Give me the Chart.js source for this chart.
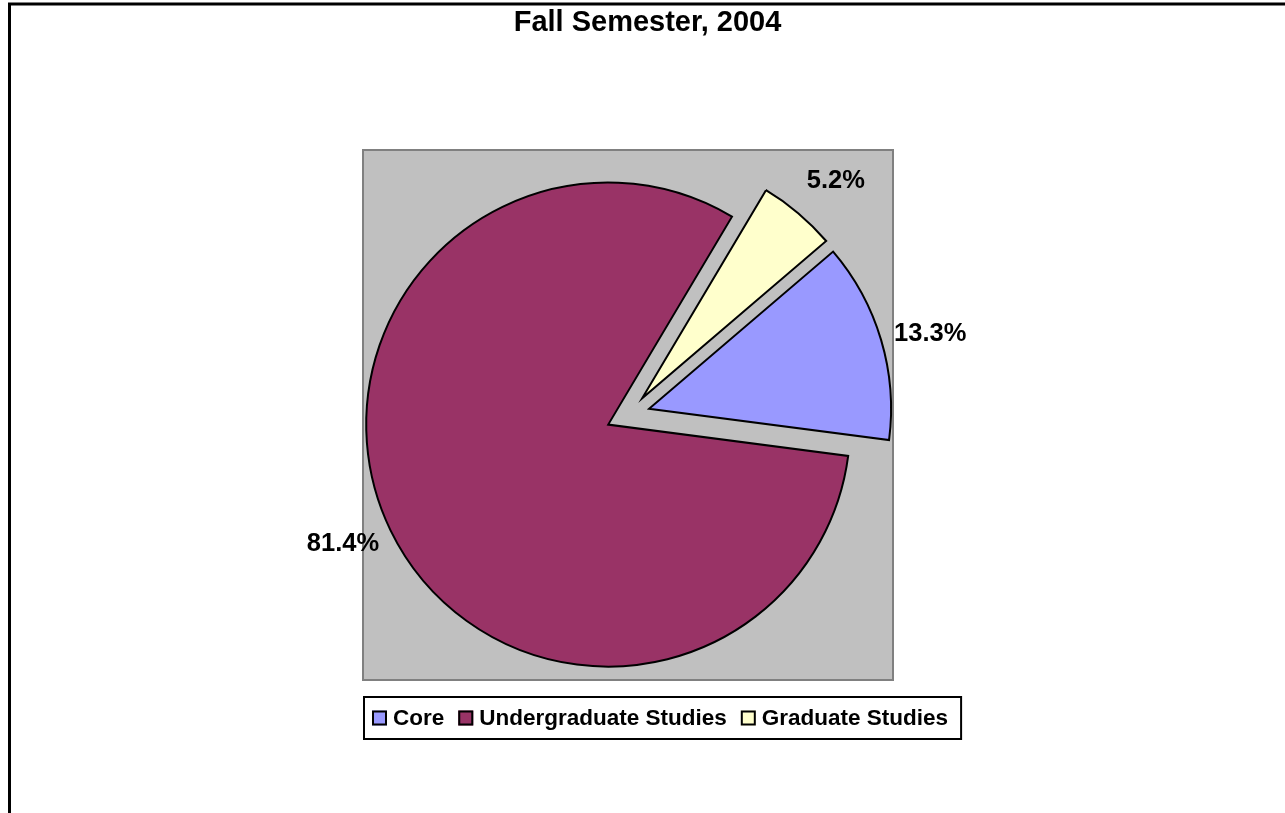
<!DOCTYPE html>
<html>
<head>
<meta charset="utf-8">
<script src="https://cdn.jsdelivr.net/npm/chart.js@4.4.1/dist/chart.umd.min.js"></script>
<style>
  html, body { margin: 0; padding: 0; background: #ffffff; }
  #wrap { width: 1285px; height: 813px; }
</style>
</head>
<body>
<div id="wrap"><canvas id="c" width="1285" height="813"></canvas></div>
<script>
const chartTitle = 'Fall Semester, 2004';
const categories = ['Core', 'Undergraduate Studies', 'Graduate Studies'];
const shares = [13.3, 81.4, 5.2];

const FONT = '"Liberation Sans", Arial, Helvetica, sans-serif';
const EXPLODE = 22;
const LABEL_GAP = 49;
const LABEL_TURN = 1.6 * Math.PI / 180;

const framePlugin = {
  id: 'frame',
  beforeDraw(chart) {
    const ctx = chart.ctx, a = chart.chartArea;
    ctx.save();
    ctx.fillStyle = '#ffffff';
    ctx.fillRect(0, 0, chart.width, chart.height);
    // outer chart border
    ctx.strokeStyle = '#000000';
    ctx.lineWidth = 3;
    ctx.strokeRect(9.5, 4, chart.width + 50, chart.height + 50);
    // plot area
    ctx.fillStyle = '#C0C0C0';
    ctx.fillRect(a.left, a.top, a.right - a.left, a.bottom - a.top);
    ctx.strokeStyle = '#808080';
    ctx.lineWidth = 2;
    ctx.strokeRect(a.left, a.top, a.right - a.left, a.bottom - a.top);
    // title
    ctx.fillStyle = '#000000';
    ctx.font = 'bold 29px ' + FONT;
    ctx.textAlign = 'center';
    ctx.textBaseline = 'middle';
    ctx.fillText(chartTitle, chart.width / 2 + 5, 23);
    ctx.restore();
  },
  beforeDatasetsDraw(chart) {
    const a = chart.chartArea;
    const cx = (a.left + a.right) / 2, cy = (a.top + a.bottom) / 2;
    const meta = chart.getDatasetMeta(0);
    meta.data.forEach(arc => {
      const mid = (arc.startAngle + arc.endAngle) / 2;
      arc.x = cx + Math.cos(mid) * EXPLODE;
      arc.y = cy + Math.sin(mid) * EXPLODE;
    });
  },
  afterDatasetsDraw(chart) {
    const ctx = chart.ctx, a = chart.chartArea;
    const meta = chart.getDatasetMeta(0);
    const ds = chart.data.datasets[0];
    ctx.save();
    ctx.fillStyle = '#000000';
    ctx.font = 'bold 25.5px ' + FONT;
    ctx.textAlign = 'center';
    ctx.textBaseline = 'middle';
    meta.data.forEach((arc, i) => {
      const mid = (arc.startAngle + arc.endAngle) / 2 + LABEL_TURN;
      const r = arc.outerRadius + LABEL_GAP;
      ctx.fillText(ds.data[i].toFixed(1) + '%', arc.x + Math.cos(mid) * r, arc.y + Math.sin(mid) * r);
    });
    // legend
    ctx.font = 'bold 22.5px ' + FONT;
    ctx.textAlign = 'left';
    const top = a.bottom + 16;
    const h = 44;
    const sq = 15;
    let x = a.left + 9;
    const items = [];
    chart.data.labels.forEach((lab, i) => {
      const w = ctx.measureText(lab).width;
      items.push({ lab, x, color: ds.backgroundColor[i], w });
      x += sq + 6 + w + 14;
    });
    const last = items[items.length - 1];
    const right = last.x + sq + 6 + last.w + 14;
    ctx.fillStyle = '#ffffff';
    ctx.fillRect(a.left, top, right - a.left, h);
    ctx.strokeStyle = '#000000';
    ctx.lineWidth = 2;
    ctx.strokeRect(a.left + 1, top + 1, right - a.left - 2, h - 2);
    const my = top + h / 2;
    items.forEach(it => {
      ctx.fillStyle = it.color;
      ctx.fillRect(it.x, my - sq / 2, sq, sq);
      ctx.strokeStyle = '#000000';
      ctx.lineWidth = 2;
      ctx.strokeRect(it.x + 1, my - sq / 2 + 1, sq - 2, sq - 2);
      ctx.fillStyle = '#000000';
      ctx.fillText(it.lab, it.x + sq + 6, my + 1);
    });
    ctx.restore();
  }
};

new Chart(document.getElementById('c'), {
  type: 'pie',
  data: {
    labels: categories,
    datasets: [{
      data: shares,
      backgroundColor: ['#9999FF', '#993366', '#FFFFCC'],
      borderColor: '#000000',
      borderWidth: 2,
      borderJoinStyle: 'miter'
    }]
  },
  options: {
    responsive: false,
    devicePixelRatio: 1,
    animation: false,
    rotation: 49.5,
    radius: 242,
    layout: { padding: { left: 363, top: 150, right: 392, bottom: 133 } },
    plugins: {
      legend: { display: false },
      title: { display: false },
      tooltip: { enabled: false }
    },
    events: []
  },
  plugins: [framePlugin]
});
</script>
</body>
</html>
